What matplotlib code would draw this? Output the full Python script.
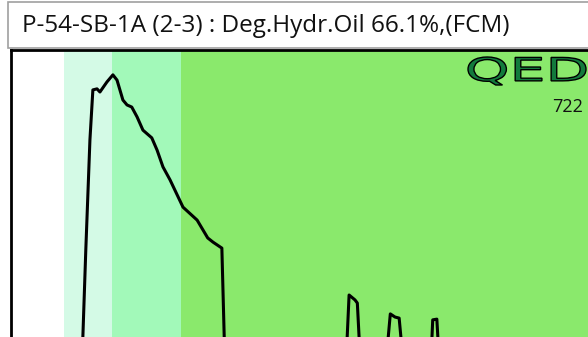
import matplotlib.pyplot as plt
from matplotlib.patches import Rectangle, PathPatch
from matplotlib.textpath import TextPath
from matplotlib.font_manager import FontProperties
from matplotlib.transforms import Affine2D

title = "P-54-SB-1A (2-3) : Deg.Hydr.Oil 66.1%,(FCM)"
logo = "QED"
sample_no = "722"

# colour bands along the x axis (start, end, colour)
band_edges = [0, 9.0, 17.1, 28.9, 100]
band_colors = ["#ffffff", "#d4fae6", "#a2f9b9", "#8ae96c"]

# trace
x = [0, 8.3, 11.4, 12.2, 12.7, 13.4, 13.9, 14.6, 15.1, 15.8, 16.3, 17.3, 18.0,
     19.0, 19.7, 20.5, 21.4, 22.4, 23.9, 24.8, 25.8, 27.0, 29.2, 31.6, 33.4,
     34.3, 35.8, 36.2, 36.3, 38.9, 54.2, 56.9, 57.4, 58.4, 58.8, 59.3, 59.8,
     63.5, 64.0, 64.4, 65.2, 65.9, 66.4, 66.9, 71.1, 71.6, 72.3, 72.5, 72.8,
     86.4, 100]
y = [3, 3, 5.7, 18, 42.9, 74.3, 88.6, 88.9, 88.0, 89.7, 90.9, 92.9, 91.4,
     85.7, 84.3, 83.7, 80.9, 77.1, 74.9, 71.4, 66.6, 62.9, 55.1, 51.4, 46.3,
     45.1, 43.4, 18, 4.3, 3, 3, 11.4, 30, 28.6, 27.7, 11.4, 3.4,
     3.4, 17.1, 24.6, 23.7, 23.4, 14.3, 3.4, 3.4, 22.9, 23.1, 17.1, 3.4,
     3, 3]

W, H = 588, 337
fig = plt.figure(figsize=(W / 100, H / 100), dpi=100)

# title box
fig.patches.append(Rectangle((8 / W, 1 - 48 / H), 1, 46 / H, transform=fig.transFigure,
                             facecolor="white", edgecolor="#a0a0a0", lw=1.2))
fig.text(22 / W, 1 - 26 / H, title, fontsize=17.5, family="Open Sans",
         va="center", ha="left", color="#111111")

# plot area runs off the right and bottom edges
ax = fig.add_axes([11 / W, 1 - 400 / H, 589 / W, 350 / H])
for i in range(len(band_colors)):
    ax.axvspan(band_edges[i], band_edges[i + 1], color=band_colors[i], lw=0)
ax.plot(x, y, color="black", lw=2.2, solid_joinstyle="round")
ax.set_xlim(0, 100)
ax.set_ylim(0, 100)
ax.set_xticks([])
ax.set_yticks([])
for s in ["left", "top"]:
    ax.spines[s].set_linewidth(2)
for s in ["right", "bottom"]:
    ax.spines[s].set_visible(False)

# stretched outline logo, placed in pixel units
tp = TextPath((0, 0), logo, size=100, prop=FontProperties(family="DejaVu Sans"))
bb = tp.get_extents()
sx = 118 / bb.width
sy = 28 / bb.height
tr = Affine2D().translate(-bb.x0, -bb.y0).scale(sx, sy).translate(468, H - 85)
fig.patches.append(PathPatch(tp, transform=tr + Affine2D().scale(1 / W, 1 / H) + fig.transFigure,
                             facecolor="#127a3c", edgecolor="black", lw=1.0))
fig.text(583 / W, 1 - 107 / H, sample_no, fontsize=13, family="Open Sans",
         ha="right", va="center", color="#111111")

fig.savefig("out.png", dpi=100)
